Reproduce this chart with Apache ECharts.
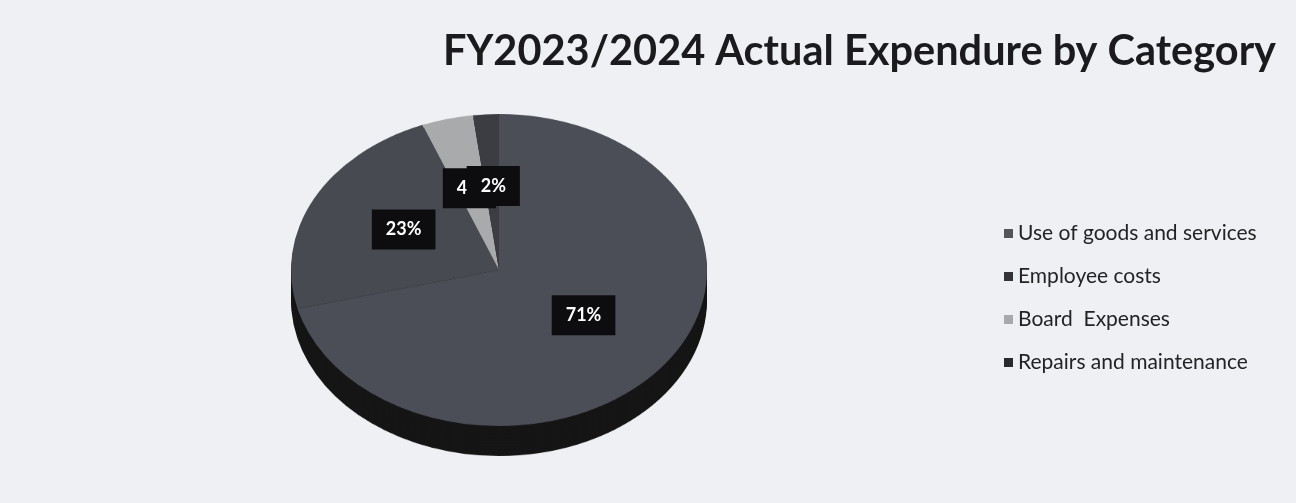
<!DOCTYPE html>
<html>
<head>
<meta charset="utf-8">
<script src="https://cdn.jsdelivr.net/npm/echarts@6/dist/echarts.min.js"></script>
<style>
  html, body { margin: 0; padding: 0; width: 1296px; height: 503px; overflow: hidden; background: #eef0f3; }
  #pie { position: absolute; left: 0; top: 0; width: 1296px; height: 671px; transform: scaleY(0.75); transform-origin: 0 0; }
  #main { position: absolute; left: 0; top: 0; width: 1296px; height: 503px; }
</style>
</head>
<body>
<div id="pie"></div>
<div id="main"></div>
<script>
// ---- data ----
const titleText = 'FY2023/2024 Actual Expendure by Category';
const categories = ['Use of goods and services', 'Employee costs', 'Board  Expenses', 'Repairs and maintenance'];
const values = [71, 23, 4, 2];
const colors = ['#4b4e57', '#484a52', '#a8aaab', '#3b3d43'];
const legendColors = ['#555559', '#333338', '#a9a9ab', '#2a2a2e'];

// ---- layout / style ----
const FLAT = 0.75;          // vertical squash of the tilted pie
const CX = 499, CY = 270;   // on-screen centre of pie top
const R = 208;              // horizontal radius
const DEPTH = 30;           // on-screen thickness of pie edge
const CYU = CY / FLAT;      // centre in the un-squashed layer
const labelNudge = [0, 0, -3, 1]; // small horizontal spread of crowded labels (px)

const pieData = categories.map((c, i) => ({ name: c, value: values[i], itemStyle: { color: colors[i] } }));
const darkData = categories.map((c, i) => ({ name: c, value: values[i], itemStyle: { color: '#151515' } }));

// pie body (squashed layer)
const pieSeries = [];
const steps = 10;
for (let k = steps; k >= 1; k--) {
  pieSeries.push({
    type: 'pie', silent: true, animation: false,
    center: [CX, CYU + (DEPTH / FLAT) * k / steps], radius: R,
    label: { show: false }, labelLine: { show: false },
    itemStyle: { borderWidth: 0 },
    data: darkData
  });
}
pieSeries.push({
  type: 'pie', silent: true, animation: false,
  center: [CX, CYU], radius: R,
  label: { show: false }, labelLine: { show: false },
  itemStyle: { borderWidth: 0 },
  data: pieData
});
const pieChart = echarts.init(document.getElementById('pie'), null, { renderer: 'canvas' });
pieChart.setOption({ backgroundColor: 'transparent', series: pieSeries });

// title, legend, labels (normal layer)
const chart = echarts.init(document.getElementById('main'), null, { renderer: 'canvas' });
chart.setOption({
  backgroundColor: 'transparent',
  title: {
    text: titleText, right: 15, top: 26,
    textStyle: { fontFamily: 'Lato', fontWeight: 'bold', fontSize: 41.5, color: '#1b1b1d' }
  },
  legend: {
    orient: 'vertical', left: 999, top: 218,
    icon: 'rect', itemWidth: 9, itemHeight: 9, itemGap: 22,
    selectedMode: false,
    textStyle: { fontFamily: 'Lato', fontSize: 21, color: '#232325' },
    data: categories.map((c, i) => ({ name: c, itemStyle: { color: legendColors[i] } }))
  },
  series: [{
    type: 'pie', silent: true, animation: false,
    center: [CX, CY], radius: R,
    itemStyle: { color: 'rgba(0,0,0,0)', borderWidth: 0 },
    label: {
      show: true, position: 'inside', formatter: '{d}%',
      fontFamily: 'Lato', fontWeight: 'bold', fontSize: 18, color: '#ffffff',
      backgroundColor: '#0d0d0f', padding: [11, 14]
    },
    labelLine: { show: false },
    labelLayout: function (p) {
      const r = p.labelRect;
      const mx = r.x + r.width / 2, my = r.y + r.height / 2;
      return { x: mx + labelNudge[p.dataIndex], y: CY + (my - CY) * FLAT - 4, align: 'center', verticalAlign: 'middle', hideOverlap: false };
    },
    data: categories.map((c, i) => ({ name: c, value: values[i] }))
  }]
});
</script>
</body>
</html>
